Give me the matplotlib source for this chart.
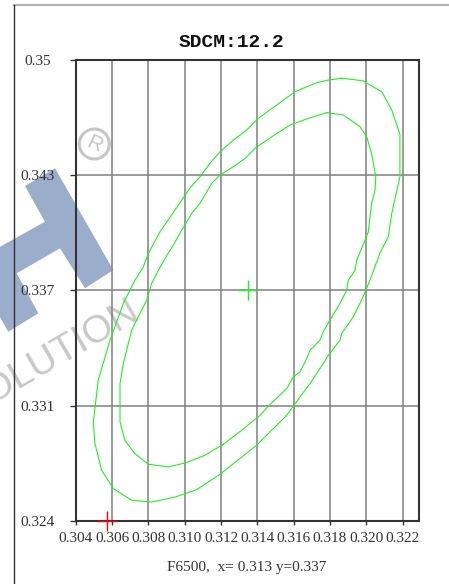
import matplotlib
matplotlib.use("Agg")
import matplotlib.pyplot as plt
from matplotlib.patches import Polygon, Ellipse
from matplotlib.lines import Line2D

# outer SDCM ellipse (x, y chromaticity)
outer_x = [0.31864, 0.31980, 0.32085, 0.32140, 0.32185, 0.32185, 0.32140, 0.32121,
           0.32075, 0.32020, 0.31998, 0.31965, 0.31928, 0.31864, 0.31855, 0.31791,
           0.31763, 0.31690, 0.31635, 0.31562, 0.31488, 0.31396, 0.31194, 0.31066,
           0.30947, 0.30818, 0.30708, 0.30607, 0.30543, 0.30506, 0.30497, 0.30524,
           0.30589, 0.30662, 0.30726, 0.30772, 0.30800, 0.30864, 0.30984, 0.31029,
           0.31084, 0.31139, 0.31194, 0.31268, 0.31341, 0.31405, 0.31507, 0.31607,
           0.31727, 0.31791]
outer_y = [0.34897, 0.34883, 0.34821, 0.34718, 0.34581, 0.34341, 0.34135, 0.34003,
           0.33911, 0.33758, 0.33702, 0.33627, 0.33551, 0.33457, 0.33420, 0.33335,
           0.33288, 0.33175, 0.33100, 0.32996, 0.32921, 0.32827, 0.32663, 0.32577,
           0.32535, 0.32507, 0.32517, 0.32583, 0.32686, 0.32837, 0.32959, 0.33194,
           0.33420, 0.33627, 0.33758, 0.33833, 0.33909, 0.34031, 0.34210, 0.34278,
           0.34341, 0.34417, 0.34482, 0.34548, 0.34605, 0.34671, 0.34746, 0.34821,
           0.34872, 0.34887]

# inner ellipse
inner_x = [0.31782, 0.31873, 0.31965, 0.32002, 0.32029, 0.32052, 0.32048, 0.32029,
           0.32011, 0.31989, 0.31947, 0.31938, 0.31901, 0.31892, 0.31855, 0.31800,
           0.31763, 0.31745, 0.31690, 0.31672, 0.31635, 0.31598, 0.31562, 0.31460,
           0.31415, 0.31314, 0.31213, 0.31112, 0.31002, 0.30910, 0.30800, 0.30726,
           0.30671, 0.30644, 0.30644, 0.30662, 0.30708, 0.30754, 0.30791, 0.30818,
           0.30846, 0.30892, 0.30937, 0.30984, 0.31039, 0.31084, 0.31149, 0.31194,
           0.31268, 0.31332, 0.31387, 0.31479, 0.31580, 0.31681]
inner_y = [0.34703, 0.34690, 0.34624, 0.34567, 0.34473, 0.34341, 0.34266, 0.34191,
           0.34031, 0.33974, 0.33871, 0.33815, 0.33758, 0.33702, 0.33627, 0.33533,
           0.33467, 0.33420, 0.33363, 0.33316, 0.33241, 0.33213, 0.33147, 0.33047,
           0.32996, 0.32912, 0.32833, 0.32771, 0.32727, 0.32705, 0.32720, 0.32780,
           0.32855, 0.32959, 0.33175, 0.33288, 0.33476, 0.33570, 0.33645, 0.33740,
           0.33796, 0.33881, 0.33956, 0.34041, 0.34135, 0.34191, 0.34304, 0.34351,
           0.34398, 0.34445, 0.34502, 0.34567, 0.34633, 0.34671]

target = (0.3135, 0.337)
measured = (0.3057, 0.324)

x_ticks = [0.304, 0.306, 0.308, 0.310, 0.312, 0.314, 0.316, 0.318, 0.320, 0.322]
x_labels = ["0.304", "0.306", "0.308", "0.310", "0.312", "0.314", "0.316", "0.318", "0.320", "0.322"]
y_ticks = [0.35, 0.3435, 0.337, 0.3305, 0.324]
y_labels = ["0.35", "0.343", "0.337", "0.331", "0.324"]

title = "SDCM:12.2"
caption = "F6500,  x= 0.313 y=0.337"

W, H = 449, 584
serif = "Liberation Serif"
mono = "Liberation Mono"


def fx(px):
    return px / W


def fy(py):
    return 1 - py / H


fig = plt.figure(figsize=(W / 100, H / 100), dpi=100)
ax = fig.add_axes([fx(75.7), fy(521), (419 - 75.7) / W, (521 - 60) / H])
ax.patch.set_visible(False)

closed = lambda v: v + v[:1]
ax.plot(closed(outer_x), closed(outer_y), color="#22f022", lw=0.8, zorder=3)
ax.plot(closed(inner_x), closed(inner_y), color="#22f022", lw=0.8, zorder=3)
ax.plot(*target, marker="+", ms=14.5, mew=1.0, color="#22f022", zorder=4)
ax.plot(*measured, marker="+", ms=14.5, mew=1.0, color="#ff0000", zorder=4, clip_on=False)

ax.set_xlim(0.304, 0.3229)
ax.set_ylim(0.324, 0.35)
ax.set_xticks(x_ticks)
ax.set_xticklabels(x_labels, fontfamily=serif, fontsize=11, color="#333333")
ax.set_yticks(y_ticks)
ax.set_yticklabels(y_labels, fontfamily=serif, fontsize=11, color="#333333")
for lab in ax.get_yticklabels():
    lab.set_ha("center")
ax.tick_params(axis="y", length=4.3, width=1, pad=23.2, color="#333333")
ax.tick_params(axis="x", length=3, width=1, pad=5.2, color="#333333")
ax.grid(True, color="#808080", lw=1.1)
for s in ax.spines.values():
    s.set_color("#333333")
    s.set_linewidth(1.5)

fig.text(fx(231.7), fy(42.7), title, ha="center", va="center",
         fontfamily=mono, fontweight="bold", fontsize=14, color="#111111")
fig.text(fx(247), fy(567.3), caption, ha="center", va="center",
         fontfamily=serif, fontsize=11, color="#333333")

# panel frame
fig.add_artist(Line2D([fx(14), 1], [fy(5), fy(5)], color="#b0b0b0", lw=1.5))
fig.add_artist(Line2D([fx(14), fx(14)], [fy(5), 0], color="#333333", lw=1))

# watermark behind the chart
logo = [(25, 186), (55, 168.3), (113.3, 270), (85, 288.3), (60, 248.3), (16.7, 273.3),
        (38.3, 313.3), (8.3, 331.7), (-20, 282), (-20, 258), (45, 221.7)]
fig.patches.append(Polygon([(fx(a), fy(b)) for a, b in logo], closed=True,
                           transform=fig.transFigure, facecolor="#9aadca",
                           edgecolor="none", zorder=-1))
fig.patches.append(Ellipse((fx(94.3), fy(144)), 30 / W, 30 / H, transform=fig.transFigure,
                           facecolor="none", edgecolor="#c6c6c6", lw=2.2, zorder=-1))
fig.text(fx(94.5), fy(144), "R", ha="center", va="center", rotation=-25,
         fontfamily="Liberation Sans", fontsize=15, color="#c6c6c6", zorder=-1)
fig.text(fx(50.5), fy(359), "SOLUTION", ha="center", va="center", rotation=30,
         rotation_mode="anchor", fontfamily="Liberation Sans", fontsize=28,
         color="#c8c8c8", zorder=-1)

fig.savefig("out.png", dpi=100)
